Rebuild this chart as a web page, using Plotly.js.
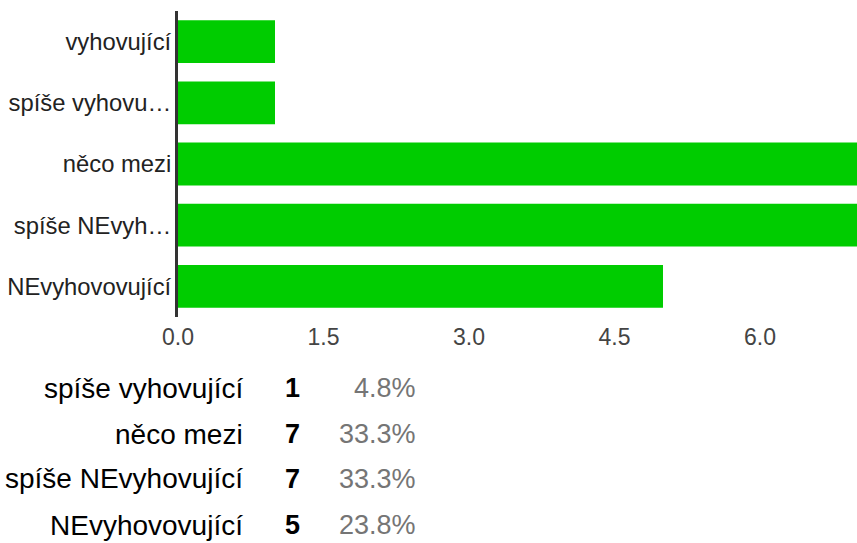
<!DOCTYPE html>
<html>
<head>
<meta charset="utf-8">
<script src="https://cdn.plot.ly/plotly-3.0.1.min.js"></script>
<style>
html,body{margin:0;padding:0;background:#fff;}
#chart{width:857px;height:543px;}
</style>
</head>
<body>
<div id="chart"></div>
<script>
// Bar chart data
const categories = ["vyhovující", "spíše vyhovující", "něco mezi", "spíše NEvyhovující", "NEvyhovovující"];
const tickLabels = ["vyhovující", "spíše vyhovu…", "něco mezi", "spíše NEvyh…", "NEvyhovovující"];
const counts = [1, 1, 7, 7, 5];
const xTicks = [0, 1.5, 3.0, 4.5, 6.0];
const xTickLabels = ["0.0", "1.5", "3.0", "4.5", "6.0"];

// Summary table rows shown below the chart
const tableLabels = ["spíše vyhovující", "něco mezi", "spíše NEvyhovující", "NEvyhovovující"];
const tableCounts = ["1", "7", "7", "5"];
const tablePercents = ["4.8%", "33.3%", "33.3%", "23.8%"];

const W = 857, H = 543;
const L = 178, T = 11, B = 317;
const plotH = B - T, plotW = W - L;
const px2x = (px) => (px - L) / plotW;
const px2y = (py) => (B - py) / plotH;

const FONT = '"Liberation Sans", Arial, sans-serif';
const rowY = [388, 434, 479, 525];
const annotations = [];
tableLabels.forEach((lab, i) => {
  annotations.push({
    xref: 'paper', yref: 'paper', x: px2x(245), y: px2y(rowY[i]),
    xanchor: 'right', yanchor: 'middle', showarrow: false, text: lab,
    font: {family: FONT, size: 28, color: '#000'}
  });
  annotations.push({
    xref: 'paper', yref: 'paper', x: px2x(292), y: px2y(rowY[i]),
    xanchor: 'center', yanchor: 'middle', showarrow: false, text: '<b>' + tableCounts[i] + '</b>',
    font: {family: FONT, size: 27, color: '#000'}
  });
  annotations.push({
    xref: 'paper', yref: 'paper', x: px2x(418), y: px2y(rowY[i]),
    xanchor: 'right', yanchor: 'middle', showarrow: false, text: tablePercents[i],
    font: {family: FONT, size: 27, color: '#757575'}
  });
});

const trace = {
  type: 'bar',
  orientation: 'h',
  x: counts,
  y: categories,
  marker: {color: '#00cc00', line: {width: 0}},
  hoverinfo: 'none'
};

const layout = {
  width: W, height: H,
  margin: {l: L, r: 0, t: T, b: H - B, pad: 0},
  paper_bgcolor: '#fff', plot_bgcolor: '#fff',
  showlegend: false,
  bargap: 0.3,
  xaxis: {
    range: [0, 7], tickmode: 'array', tickvals: xTicks, ticktext: xTickLabels,
    showgrid: false, zeroline: false, showline: false,
    ticks: '', ticklabelstandoff: 4,
    tickfont: {family: FONT, size: 23, color: '#444'}
  },
  yaxis: {
    type: 'category', autorange: 'reversed',
    tickmode: 'array', tickvals: categories, ticktext: tickLabels,
    showgrid: false, zeroline: false,
    showline: true, linecolor: '#333', linewidth: 3,
    ticks: '', ticklabelstandoff: -1,
    tickfont: {family: FONT, size: 23.8, color: '#222'}
  },
  annotations: annotations
};

Plotly.newPlot('chart', [trace], layout, {staticPlot: true, displayModeBar: false});
</script>
</body>
</html>
